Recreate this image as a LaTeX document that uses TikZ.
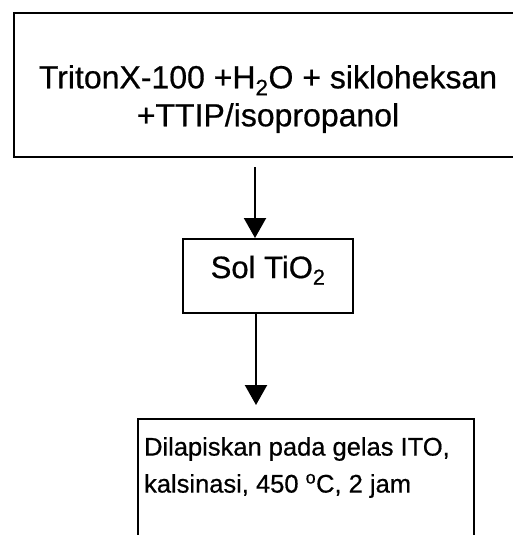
\documentclass[tikz,border=0pt]{standalone}
\usepackage{fontspec}
\setmainfont{Liberation Sans}[UprightFeatures={FakeBold=0.6}]
\usetikzlibrary{arrows.meta}

\begin{document}
\begin{tikzpicture}[x=1pt,y=-1pt,line width=2.2pt,
  flowbox/.style={draw,rectangle,inner sep=0pt,anchor=north west},
  flowtext/.style={inner sep=0pt},
  flowarrow/.style={-{Triangle[width=22pt,length=20pt]}}]
\path[use as bounding box] (0,0) rectangle (512,535);
\node[flowbox,minimum width=505,minimum height=144] (mix) at (13,12) {};
\node[flowtext,anchor=north,align=center,font=\fontsize{32}{38}\selectfont] (mixtxt) at (268,64) {TritonX-100 +H\textsubscript{2}O + sikloheksan\\+TTIP/isopropanol};
\node[flowbox,minimum width=170,minimum height=74,text height=23,text depth=19,font=\fontsize{31}{36}\selectfont] (sol) at (182,238) {Sol TiO\textsubscript{2}};
\node[flowbox,minimum width=336,minimum height=140] (coat) at (137,418) {};
\node[flowtext,anchor=north west,align=left,font=\fontsize{25.5}{37}\selectfont] (coattxt) at (143,436) {Dilapiskan pada gelas ITO,\\kalsinasi, 450 \textsuperscript{o}C, 2 jam};
\coordinate (a1) at (255,167);
\coordinate (a2) at (256,405);
\draw[flowarrow] (a1) -- (a1 |- sol.north);
\draw[flowarrow] (a2 |- sol.south) -- (a2);
\end{tikzpicture}
\end{document}
